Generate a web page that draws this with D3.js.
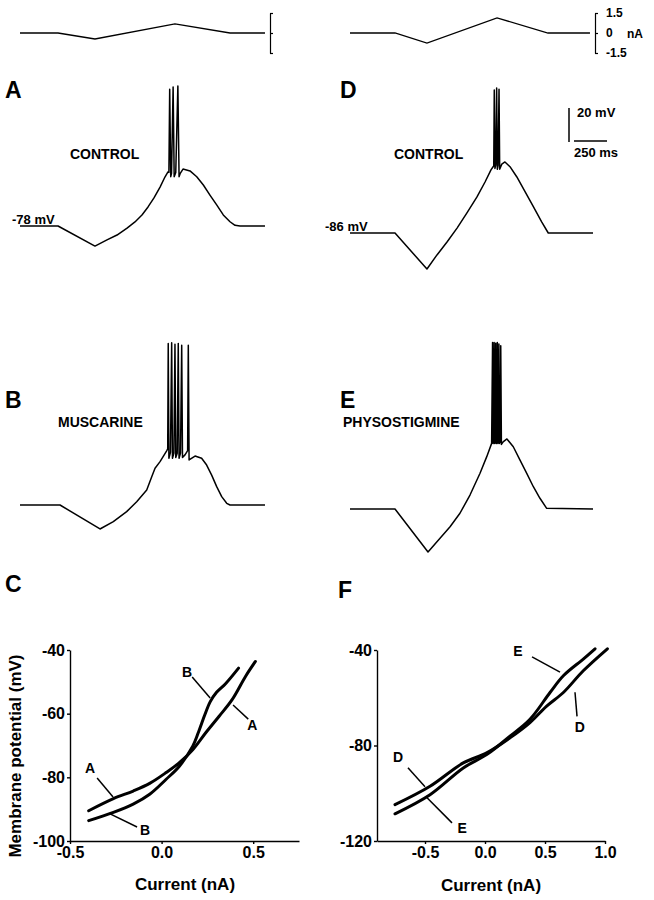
<!DOCTYPE html>
<html>
<head>
<meta charset="utf-8">
<script src="https://cdn.jsdelivr.net/npm/d3@7"></script>
<style>
  body { margin: 0; background: #fff; }
  text { font-family: "Liberation Sans", Arial, sans-serif; font-weight: bold; fill: #000; }
</style>
</head>
<body>
<script>
// ---- data (time in ms, current in nA, potential in mV) ----
var stimLeft  = [[0,0],[288,0],[568,-0.45],[1174,0.68],[1591,0],[1856,0]];
var stimRight = [[0,0],[341,0],[583,-0.75],[1114,1.13],[1500,0],[1818,0]];
var stimTicks = [-1.5, 0, 1.5];

var traceA = [[0,-78],[288,-78],[568,-89.8],[659,-86.2],[735,-83.3],[811,-79.2],[871,-75.6],[924,-71.5],
  [970,-66.8],[1015,-61.5],[1061,-55.1],[1098,-49.2],[1121,-46.2],
  [1128,-46.5],[1134,2.5],[1142,-49],[1148,-47],[1160,3.8],[1168,-49],[1180,-46.5],[1196,4.4],[1205,-49],
  [1214,-47],[1235,-44.5],[1288,-45.6],[1339,-49],[1389,-53.9],[1439,-59.8],[1490,-65.6],[1540,-71.5],
  [1591,-75.5],[1629,-77.6],[1667,-78],[1856,-78]];

var traceB = [[0,-78],[303,-78],[606,-92.1],[707,-87.8],[808,-81.9],[884,-76.1],[960,-69.2],[998,-61.4],
  [1023,-56.4],[1061,-52.5],[1111,-46.1],
  [1119,-45],[1123,17],[1128,-50.5],[1140,-47],[1149,17.5],[1155,-50.5],[1166,-47.5],[1174,16.5],[1180,-50],
  [1191,-47.5],[1199,17],[1205,-50.5],[1216,-47.5],[1225,16],[1231,-50],[1250,-48.5],[1270,-46],[1275,16],
  [1281,-51.5],[1290,-51],[1326,-49.2],[1376,-50.5],[1414,-54.5],[1452,-60.4],[1490,-67.2],[1528,-73.1],
  [1566,-77],[1591,-78],[1856,-78]];

var traceD = [[0,-86],[341,-86],[583,-107.2],[659,-98.9],[735,-91.3],[811,-83.1],[886,-74.2],[962,-64.8],
  [1023,-56],[1068,-48.9],[1083,-47.2],
  [1089,-46.5],[1093,-1.9],[1098,-48],[1104,-46],[1111,-0.7],[1116,-48.5],[1122,-46],[1129,-1.5],[1134,-48.5],
  [1150,-45.5],[1174,-44.2],[1212,-47],[1263,-52.9],[1326,-61.7],[1389,-70.5],[1452,-79.4],[1502,-86],[1841,-86]];

var traceE = [[0,-86],[341,-86],[591,-111.3],[682,-103.2],[758,-96.4],[833,-88.5],[909,-77.8],[985,-65],
  [1036,-55.2],[1073,-47.4],
  [1080,12],[1084,-47.5],[1088,-46.5],[1092,12],[1096,-47.5],[1100,-46.5],[1104,11.5],[1108,-47.5],
  [1112,-46.5],[1116,12],[1120,-47.5],[1124,-46.5],[1128,11],[1132,-47.5],[1138,-46.5],[1142,10],
  [1147,-48],[1160,-46.5],[1189,-44.8],[1237,-49.4],[1288,-57.2],[1339,-65],[1389,-72.9],[1439,-79.7],
  [1490,-85.6],[1841,-86]];

// I-V relations
var ivA = [[-0.398,-90.5],[-0.263,-86.7],[-0.155,-84.3],[-0.065,-81.9],[0.025,-78.5],[0.097,-75.4],
  [0.17,-71.3],[0.241,-66],[0.314,-60.8],[0.385,-55.6],[0.458,-48.3],[0.512,-43.6]];
var ivB = [[-0.398,-93.6],[-0.263,-91],[-0.155,-88.4],[-0.065,-85.3],[0.025,-80.6],[0.097,-76.5],
  [0.17,-70.2],[0.2,-66],[0.235,-60.5],[0.265,-56.3],[0.3,-53.3],[0.349,-50.6],[0.42,-45.7]];
var ivD = [[-0.75,-104.8],[-0.458,-97.1],[-0.181,-87.3],[0.014,-83.1],[0.208,-76.8],[0.375,-70.4],
  [0.514,-63.5],[0.653,-57.8],[0.819,-48.7],[1.02,-39.5]];
var ivE = [[-0.75,-108.6],[-0.458,-100.6],[-0.181,-89.4],[0.014,-83.8],[0.208,-76.1],[0.375,-69],
  [0.542,-57.8],[0.653,-50.8],[0.819,-43.8],[0.917,-39.5]];

var ticksCx = [-0.5, 0, 0.5], ticksCy = [-40, -60, -80, -100];
var ticksFx = [-0.5, 0, 0.5, 1.0], ticksFy = [-40, -80, -120];

// labels with pointer lines: [label, labelX, labelY, fromX, fromY, toX, toY]
var annC = [["B",0.139,-46.9,0.167,-48.5,0.265,-55.1],["A",0.495,-63.6,0.473,-61.7,0.39,-57.3],
  ["A",-0.391,-77.1,-0.352,-80.2,-0.265,-86.2],["B",-0.09,-96.5,-0.134,-95.6,-0.281,-91.5]];
var annF = [["E",0.275,-40.4,0.392,-42.9,0.625,-49.3],["D",0.79,-72.4,0.767,-67.8,0.75,-57.7],
  ["D",-0.725,-85,-0.642,-89.3,-0.5,-97.3],["E",-0.19,-114.5,-0.275,-112.4,-0.483,-101.9]];

var svg = d3.select("body").append("svg").attr("width", 654).attr("height", 900);

function txt(x, y, s, size, rot) {
  var t = svg.append("text").attr("x", x).attr("y", y).attr("font-size", size).text(s);
  if (rot) t.attr("transform", "rotate(-90," + x + "," + y + ")").attr("text-anchor", "middle");
  return t;
}

// ---- stimulus traces ----
function stim(data, x0) {
  var x = d3.scaleLinear().domain([0, 250]).range([x0, x0 + 33]);
  var y = d3.scaleLinear().domain([-1.5, 1.5]).range([53, 13]);
  svg.append("path").datum(data)
    .attr("d", d3.line().x(d => x(d[0])).y(d => y(d[1])))
    .attr("fill", "none").attr("stroke", "#000").attr("stroke-width", 1.3);
  return y;
}
stim(stimLeft, 20);
var ys = stim(stimRight, 350);
function bracket(xb, labels) {
  var g = svg.append("g").attr("transform", "translate(" + xb + ",0)")
    .call(d3.axisRight(ys).tickValues(stimTicks).tickSizeInner(3).tickSizeOuter(0).tickPadding(8)
      .tickFormat(labels ? d => (d === 0 ? "0" : d.toFixed(1)) : () => ""));
  g.selectAll("path,line").attr("stroke", "#000").attr("stroke-width", 1.2);
  g.selectAll("text").attr("font-size", 12).attr("font-family", null);
}
bracket(270, false);
bracket(595, true);
txt(627, 38, "nA", 12);

// ---- membrane potential traces ----
function trace(data, x0, base, baseY) {
  var x = d3.scaleLinear().domain([0, 250]).range([x0, x0 + 33]);
  var y = d3.scaleLinear().domain([base, base + 20]).range([baseY, baseY - 34]);
  svg.append("path").datum(data)
    .attr("d", d3.line().x(d => x(d[0])).y(d => y(d[1])))
    .attr("fill", "none").attr("stroke", "#000").attr("stroke-width", 1.5)
    .attr("stroke-linejoin", "round");
  return {x: x, y: y};
}
trace(traceA, 20, -78, 226);
trace(traceB, 20, -78, 505);
var sD = trace(traceD, 350, -86, 233);
trace(traceE, 350, -86, 509);

// scale bar (20 mV, 250 ms)
var bar = svg.append("g").attr("stroke", "#000").attr("stroke-width", 1.5);
var h20 = sD.y(-86) - sD.y(-66), w250 = sD.x(250) - sD.x(0);
bar.append("line").attr("x1", 569).attr("x2", 569).attr("y1", 108).attr("y2", 108 + h20);
bar.append("line").attr("x1", 574).attr("x2", 574 + w250).attr("y1", 141).attr("y2", 141);
txt(577, 117, "20 mV", 13);
txt(574, 157, "250 ms", 13);

txt(5, 98, "A", 23); txt(340, 98, "D", 23);
txt(5, 408, "B", 23); txt(340, 408, "E", 23);
txt(5, 592, "C", 23); txt(338, 598, "F", 23);
txt(70, 159, "CONTROL", 14); txt(394, 159, "CONTROL", 14);
txt(58, 427, "MUSCARINE", 14); txt(343, 427, "PHYSOSTIGMINE", 14);
txt(12, 224, "-78 mV", 13); txt(325, 231, "-86 mV", 13);

// ---- I-V plots ----
function ivPlot(xr, xd, yd, xt, yt, curves, ann, titleX, titleY) {
  var x = d3.scaleLinear().domain(xd).range(xr);
  var y = d3.scaleLinear().domain(yd).range([841, 650]);
  var fmt = d => d.toFixed(1);
  var gx = svg.append("g").attr("transform", "translate(0,841)")
    .call(d3.axisBottom(x).tickValues(xt).tickSizeInner(3).tickSizeOuter(0).tickFormat(fmt));
  var gy = svg.append("g").attr("transform", "translate(" + xr[0] + ",0)")
    .call(d3.axisLeft(y).tickValues(yt).tickSizeInner(3).tickSizeOuter(0).tickPadding(2).tickFormat(d => String(d)));
  [gx, gy].forEach(function (g) {
    g.selectAll("path,line").attr("stroke", "#000").attr("stroke-width", 1.4);
    g.selectAll("text").attr("font-size", 16).attr("font-family", null);
  });
  var line = d3.line().x(d => x(d[0])).y(d => y(d[1])).curve(d3.curveCatmullRom);
  curves.forEach(function (c) {
    svg.append("path").datum(c).attr("d", line)
      .attr("fill", "none").attr("stroke", "#000").attr("stroke-width", 3).attr("stroke-linecap", "round");
  });
  ann.forEach(function (a) {
    svg.append("line").attr("x1", x(a[3])).attr("y1", y(a[4])).attr("x2", x(a[5])).attr("y2", y(a[6]))
      .attr("stroke", "#000").attr("stroke-width", 1.5);
    svg.append("text").attr("x", x(a[1])).attr("y", y(a[2])).attr("dy", "0.36em")
      .attr("text-anchor", "middle").attr("font-size", 14).text(a[0]);
  });
  txt(titleX, titleY, "Current (nA)", 17).attr("text-anchor", "middle");
}
ivPlot([70, 299], [-0.5, 0.75], [-100, -40], ticksCx, ticksCy, [ivA, ivB], annC, 185, 890);
ivPlot([377, 605], [-0.9, 1.0], [-120, -40], ticksFx, ticksFy, [ivD, ivE], annF, 491, 891);
txt(21, 756, "Membrane potential (mV)", 17, true);
</script>
</body>
</html>
